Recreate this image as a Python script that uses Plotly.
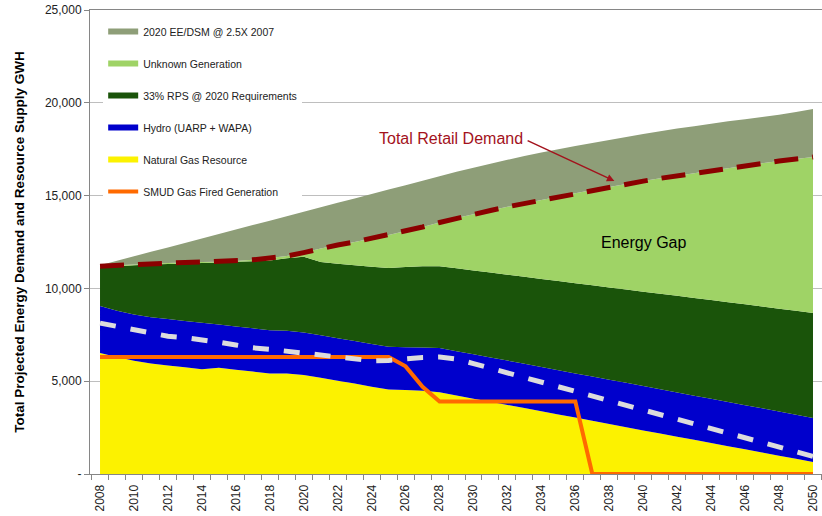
import plotly.graph_objects as go

years = list(range(2008, 2051))

# cumulative tops of the stacked areas (GWh)
gas_top = [6520, 6300, 6100, 5950, 5850, 5750, 5650, 5720, 5620, 5520, 5420, 5420, 5330, 5180,
           5020, 4870, 4700, 4550, 4520, 4480, 4400, 4230, 4060, 3890, 3720, 3550, 3380, 3210,
           3040, 2870, 2700, 2520, 2350, 2180, 2010, 1840, 1670, 1500, 1330, 1160, 990, 820, 650]
hydro_top = [9050, 8800, 8600, 8450, 8350, 8250, 8150, 8050, 7950, 7850, 7750, 7720, 7620, 7480,
             7320, 7160, 7000, 6860, 6830, 6810, 6790, 6620, 6450, 6280, 6110, 5940, 5760, 5590,
             5420, 5250, 5080, 4910, 4740, 4570, 4390, 4220, 4050, 3880, 3710, 3540, 3370, 3190, 3020]
rps_top = [11100, 11200, 11250, 11290, 11310, 11340, 11370, 11400, 11430, 11460, 11500, 11620,
           11700, 11420, 11330, 11250, 11170, 11100, 11150, 11200, 11200, 11085, 10970, 10860,
           10740, 10630, 10510, 10400, 10280, 10170, 10050, 9940, 9820, 9710, 9600, 9480, 9370,
           9250, 9140, 9020, 8910, 8790, 8680]
demand = [11200, 11250, 11290, 11330, 11370, 11400, 11420, 11440, 11480, 11540, 11640, 11740,
          11930, 12150, 12340, 12500, 12690, 12880, 13090, 13310, 13550, 13790, 13990, 14200,
          14400, 14580, 14760, 14940, 15120, 15300, 15470, 15630, 15780, 15930, 16070, 16210,
          16350, 16480, 16610, 16740, 16860, 16970, 17080]
ee_top = [11250, 11490, 11730, 11970, 12210, 12450, 12690, 12930, 13170, 13410, 13650, 13890,
          14130, 14370, 14610, 14850, 15090, 15330, 15560, 15800, 16040, 16280, 16500, 16720,
          16930, 17130, 17320, 17500, 17670, 17840, 18000, 18160, 18320, 18470, 18610, 18740,
          18870, 19000, 19120, 19240, 19360, 19500, 19660]

# lines
gray_dash = [8130, 7950, 7750, 7550, 7420, 7350, 7250, 7100, 6950, 6800, 6720, 6620, 6500, 6400,
             6300, 6200, 6100, 6120, 6220, 6280, 6300, 6200, 5950, 5700, 5450, 5200, 4950, 4700,
             4450, 4200, 3950, 3700, 3450, 3200, 2950, 2700, 2450, 2200, 1950, 1700, 1450, 1200, 950]
smud_gas = [6300, 6300, 6300, 6300, 6300, 6300, 6300, 6300, 6300, 6300, 6300, 6300, 6300, 6300,
            6300, 6300, 6300, 6300, 5800, 4700, 3900, 3900, 3900, 3900, 3900, 3900, 3900, 3900,
            3900, 0, 0, 0, 0, 0, 0, 0, 0, 0, 0, 0, 0, 0, 0]

FONT = "Liberation Sans"

fig = go.Figure()

areas = [
    (gas_top, "Natural Gas Resource", "#FCF200", "tozeroy", 5),
    (hydro_top, "Hydro (UARP + WAPA)", "#0000CC", "tonexty", 4),
    (rps_top, "33% RPS @ 2020 Requirements", "#1A540A", "tonexty", 3),
    (demand, "Unknown Generation", "#9FD366", "tonexty", 2),
    (ee_top, "2020 EE/DSM @ 2.5X 2007", "#8E9E78", "tonexty", 1),
]
for vals, nombre, color, fill, rank in areas:
    fig.add_trace(go.Scatter(
        x=years, y=vals, name=nombre, mode="none", fill=fill, fillcolor=color,
        legendrank=rank, legendgroup=nombre
    ))

fig.add_trace(go.Scatter(
    x=years, y=smud_gas, name="SMUD Gas Fired Generation", mode="lines",
    line=dict(color="#FF6A00", width=4), legendrank=6, legendgroup="smud"
))
fig.add_trace(go.Scatter(
    x=years, y=gray_dash, mode="lines", showlegend=False,
    line=dict(color="#DCDCDC", width=5, dash="16px,15px")
))
fig.add_trace(go.Scatter(
    x=years, y=demand, mode="lines", showlegend=False,
    line=dict(color="#8B0000", width=5, dash="24px,14px")
))

fig.add_annotation(
    x=2028.65, y=18100, text="Total Retail Demand", showarrow=False,
    font=dict(family=FONT, size=16, color="#A3121C")
)
fig.add_annotation(
    x=2038.3, y=15790, ax=2033.1, ay=18000, axref="x", ayref="y", text="",
    showarrow=True, arrowhead=2, arrowsize=1, arrowwidth=1.5, arrowcolor="#A3121C"
)
fig.add_annotation(
    x=2040, y=12450, text="Energy Gap", showarrow=False,
    font=dict(family=FONT, size=16, color="#000000")
)

fig.update_layout(
    width=822,
    height=516,
    margin=dict(l=90, r=0, t=10, b=42),
    paper_bgcolor="white",
    plot_bgcolor="white",
    font=dict(family=FONT, size=12, color="#222222"),
    legend=dict(
        x=0.018, y=0.985, xanchor="left", yanchor="top",
        bgcolor="white", font=dict(size=10.5, color="#222222"),
        tracegroupgap=13, traceorder="grouped"
    ),
)
fig.update_xaxes(
    range=[2007.41, 2050.53],
    automargin=False,
    tickmode="array",
    tickvals=years[::2],
    ticktext=[str(a) for a in years[::2]],
    tickangle=-90,
    ticklabeloverflow="allow",
    ticks="outside", ticklen=5, tickcolor="rgba(0,0,0,0)",
    minor=dict(ticks="outside", ticklen=5, tickmode="linear", tick0=2007.5, dtick=1,
               tickcolor="#868686", showgrid=False),
    showline=True, linecolor="#868686", mirror=True,
    showgrid=False, zeroline=False,
    tickfont=dict(size=12)
)
fig.update_yaxes(
    range=[0, 25000],
    automargin=False,
    tickmode="array",
    tickvals=[0, 5000, 10000, 15000, 20000, 25000],
    ticktext=["-", "5,000", "10,000", "15,000", "20,000", "25,000"],
    ticklabeloverflow="allow",
    ticks="outside", ticklen=5, tickcolor="#868686",
    showline=True, linecolor="#868686", showgrid=True, gridcolor="#BEBEBE",
    zeroline=False, tickfont=dict(size=12),
    title=dict(text="<b>Total Projected Energy Demand and Resource Supply GWH</b>",
               font=dict(size=13.5, color="#000000"), standoff=17)
)

# quitar el margen por defecto del body para que la figura ocupe la ventana
fig.write_html(
    "out.html",
    config={"displayModeBar": False},
    post_script="document.body.style.margin = '0px';"
)
